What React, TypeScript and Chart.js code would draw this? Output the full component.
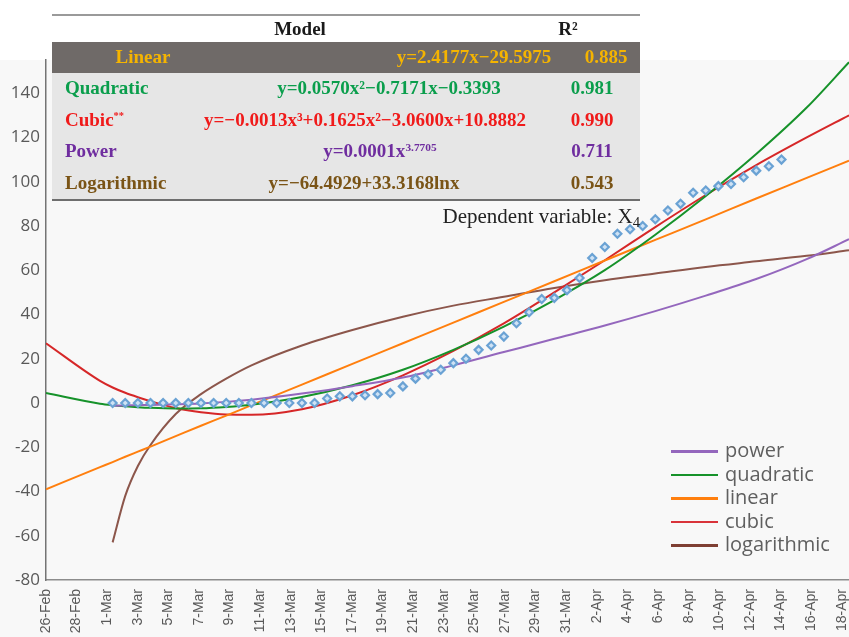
import React, { useEffect, useRef } from 'react';
import { Chart, registerables } from 'chart.js';

Chart.register(...registerables);

// ---- x tick labels (every other day) ----
const dateLabels = [
  '26-Feb', '28-Feb', '1-Mar', '3-Mar', '5-Mar', '7-Mar', '9-Mar', '11-Mar', '13-Mar',
  '15-Mar', '17-Mar', '19-Mar', '21-Mar', '23-Mar', '25-Mar', '27-Mar', '29-Mar', '31-Mar',
  '2-Apr', '4-Apr', '6-Apr', '8-Apr', '10-Apr', '12-Apr', '14-Apr', '16-Apr', '18-Apr',
];

// ---- observed values X4 (day index 1..54) ----
const observed = [
  0, 0, 0, 0, 0, 0, 0, 0, 0, 0, 0, 0, 0, 0, 0, 0, 0,
  2, 3, 3, 3.5, 4, 4.5,
  7.5, 11, 13, 15, 18, 20, 24, 26, 30, 36,
  41, 47, 47.5, 51, 56.5, 65.5, 70.5, 76.5, 78.5, 80,
  83, 87, 90, 95, 96, 98, 99, 102, 105, 107, 110,
];

// ---- fitted curves, sampled at day index ----
const curveX = [-4.28, 0, 1, 2, 3, 4, 6, 8, 10, 12, 16, 20, 24, 28, 32, 36, 40, 44, 48, 52, 56, 59.35];
const powerY = [null, null, -1.2, -1.1, -1, -0.9, -0.6, -0.2, 0.5, 1.5, 4.3, 7.6, 11.5, 17, 23, 29, 35, 41.5, 48.5, 56, 65, 74];
const quadraticY = [4.5, -0.3, -1, -1.5, -1.9, -2.2, -2.5, -2.4, -1.8, -0.8, 2.7, 8, 15, 24, 34.5, 46.5, 60, 76, 93.5, 112.5, 133.5, 154];
const linearY = [-39, -29, -26.7, -24.3, -22, -19.7, -15, -10.3, -5.7, -1, 8.3, 17.7, 27, 36.3, 45.7, 55, 64.4, 73.7, 83, 92.4, 101.7, 109.5];
const cubicY = [27, 10, 7, 4.6, 2.6, 0.8, -2.3, -4.2, -5.2, -5.3, -2.8, 3.5, 12.5, 23.5, 36, 50, 64.5, 79.5, 94, 107.5, 120, 130];
const logY = [null, null, -63, -42, -28.5, -19, -5, 4, 11, 17, 26, 33, 39, 44, 48, 52, 55.5, 58.5, 61.5, 64, 66.5, 69];

// ---- legend ----
const legendNames = ['power', 'quadratic', 'linear', 'cubic', 'logarithmic'];
const legendColors = ['#9467bd', '#16922a', '#ff7f0e', '#d9333a', '#7e3f33'];

// ---- model table ----
const modelNames = ['Linear', 'Quadratic', 'Cubic', 'Power', 'Logarithmic'];
const modelMarks = ['', '', '**', '', ''];
const modelEquations = [
  'y=2.4177x\u221229.5975',
  'y=0.0570x\u00b2\u22120.7171x\u22120.3393',
  'y=\u22120.0013x\u00b3+0.1625x\u00b2\u22123.0600x+10.8882',
  'y=0.0001x^3.7705',
  'y=\u221264.4929+33.3168lnx',
];
const modelR2 = ['0.885', '0.981', '0.990', '0.711', '0.543'];
const modelColors = ['#f5b400', '#0a9e4c', '#f01a1a', '#6f2d9f', '#7a5416'];

const rowY = [57, 88, 120, 151, 183];
const eqCenter = [474, 389, 365, 380, 364];
const r2Center = [606, 592, 592, 592, 592];

const serif = '"Liberation Serif", "DejaVu Serif", serif';

function pairs(ys: (number | null)[]) {
  return curveX.map((x, i) => ({ x, y: ys[i] }));
}

function Equation({ text }: { text: string }) {
  const idx = text.indexOf('^');
  if (idx < 0) return <>{text}</>;
  return (
    <>
      {text.slice(0, idx)}
      <sup style={{ fontSize: '0.6em', verticalAlign: 'baseline', position: 'relative', top: '-0.55em' }}>{text.slice(idx + 1)}</sup>
    </>
  );
}

const bgPlugin = {
  id: 'bgFill',
  beforeDraw(chart: any) {
    const { ctx, width, height, chartArea } = chart;
    ctx.save();
    ctx.fillStyle = '#f8f8f8';
    ctx.fillRect(0, chartArea.top, width, height - chartArea.top);
    ctx.restore();
  },
};

export default function App() {
  const ref = useRef<HTMLCanvasElement>(null);

  useEffect(() => {
    const lineDs = (label: string, ys: (number | null)[], color: string) => ({
      type: 'line' as const,
      label,
      data: pairs(ys),
      borderColor: color,
      backgroundColor: color,
      borderWidth: 2,
      pointRadius: 0,
      cubicInterpolationMode: 'monotone' as const,
      xAxisID: 'x',
      yAxisID: 'y',
    });

    const chart = new Chart(ref.current!, {
      type: 'line',
      data: {
        datasets: [
          {
            label: 'X4',
            data: observed.map((y, i) => ({ x: i + 1, y })),
            showLine: false,
            pointStyle: 'rectRot',
            pointRadius: 4,
            pointBorderWidth: 2.2,
            pointBorderColor: '#6aa2d4',
            pointBackgroundColor: '#cfe2f4',
            xAxisID: 'x',
            yAxisID: 'y',
          } as any,
          lineDs('power', powerY, '#9467bd'),
          lineDs('quadratic', quadraticY, '#16922a'),
          lineDs('linear', linearY, '#ff7f0e'),
          lineDs('cubic', cubicY, '#d62728'),
          lineDs('logarithmic', logY, '#8c564b'),
        ],
      },
      options: {
        animation: false,
        responsive: false,
        devicePixelRatio: 1,
        layout: { padding: { top: 60, right: 20, left: 0, bottom: 0 } },
        plugins: { legend: { display: false }, tooltip: { enabled: false } },
        scales: {
          x: { type: 'linear', display: false, min: -4.28, max: 59.35 },
          xl: {
            type: 'linear',
            position: 'bottom',
            min: 0,
            max: 26.24,
            grid: { display: false, drawTicks: false },
            border: { display: true, color: '#8c8c8c', width: 1.5 },
            ticks: {
              stepSize: 1,
              includeBounds: false,
              autoSkip: false,
              maxRotation: 90,
              minRotation: 90,
              padding: 9,
              color: '#595959',
              font: { family: '"Liberation Sans", Arial, sans-serif', size: 14 },
              callback: (v: any) => dateLabels[v] ?? '',
            },
            afterFit: (s: any) => { s.height = 80; },
          } as any,
          y: {
            min: -80,
            max: 155,
            grid: { display: false, drawTicks: false },
            border: { display: true, color: '#747474', width: 1.5 },
            ticks: {
              stepSize: 20,
              includeBounds: false,
              padding: 6,
              color: '#595959',
              font: { family: '"Open Sans", sans-serif', size: 17 },
            },
            afterFit: (s: any) => { s.width = 46; },
          } as any,
        },
      },
      plugins: [bgPlugin],
    });
    return () => chart.destroy();
  }, []);

  const centered = (x: number, y: number): React.CSSProperties => ({
    position: 'absolute', left: x, top: y, transform: 'translate(-50%, -50%)', whiteSpace: 'nowrap',
  });

  return (
    <div style={{ position: 'absolute', left: 0, top: 0, width: 849, height: 637, overflow: 'hidden', background: '#ffffff' }}>
      <canvas ref={ref} width={869} height={660} style={{ position: 'absolute', left: 0, top: 0, width: 869, height: 660 }} />

      {/* model table */}
      <div style={{ position: 'absolute', left: 0, top: 0, width: 849, height: 240, fontFamily: serif, fontWeight: 'bold', fontSize: 19 }}>
        <div style={{ position: 'absolute', left: 52, top: 14, width: 588, height: 2, background: '#9a9a9a' }} />
        <div style={{ ...centered(300, 29), color: '#1a1a1a' }}>Model</div>
        <div style={{ ...centered(568, 29), color: '#1a1a1a' }}>R²</div>
        <div style={{ position: 'absolute', left: 52, top: 42, width: 588, height: 31, background: '#6f6a68' }} />
        <div style={{ position: 'absolute', left: 52, top: 73, width: 588, height: 126, background: '#e6e6e6', borderBottom: '2px solid #6e6e6e' }} />
        {modelNames.map((name, i) => (
          <React.Fragment key={name}>
            <div
              style={
                i === 0
                  ? { ...centered(143, rowY[i]), color: modelColors[i] }
                  : { position: 'absolute', left: 65, top: rowY[i], transform: 'translateY(-50%)', color: modelColors[i], whiteSpace: 'nowrap' }
              }
            >
              {name}
              {modelMarks[i] && (
                <sup style={{ fontSize: '0.55em', verticalAlign: 'baseline', position: 'relative', top: '-0.7em' }}>{modelMarks[i]}</sup>
              )}
            </div>
            <div style={{ ...centered(eqCenter[i], rowY[i]), color: modelColors[i] }}>
              <Equation text={modelEquations[i]} />
            </div>
            <div style={{ ...centered(r2Center[i], rowY[i]), color: modelColors[i] }}>{modelR2[i]}</div>
          </React.Fragment>
        ))}
        <div style={{ position: 'absolute', right: 209, top: 216, transform: 'translateY(-50%)', fontWeight: 'normal', fontSize: 21, color: '#222', whiteSpace: 'nowrap' }}>
          Dependent variable: X<sub style={{ fontSize: '0.7em', verticalAlign: 'baseline', position: 'relative', top: '0.25em' }}>4</sub>
        </div>
      </div>

      {/* legend */}
      {legendNames.map((n, i) => (
        <div key={n} style={{ position: 'absolute', left: 671, top: 450 + i * 23.5, transform: 'translateY(-50%)', display: 'flex', alignItems: 'center', whiteSpace: 'nowrap' }}>
          <div style={{ width: 47, height: 2.5, background: legendColors[i], marginRight: 7, marginTop: 3 }} />
          <span style={{ fontFamily: '"Open Sans", sans-serif', fontSize: 20, color: '#5f5f5f', lineHeight: '22px' }}>{n}</span>
        </div>
      ))}
    </div>
  );
}
